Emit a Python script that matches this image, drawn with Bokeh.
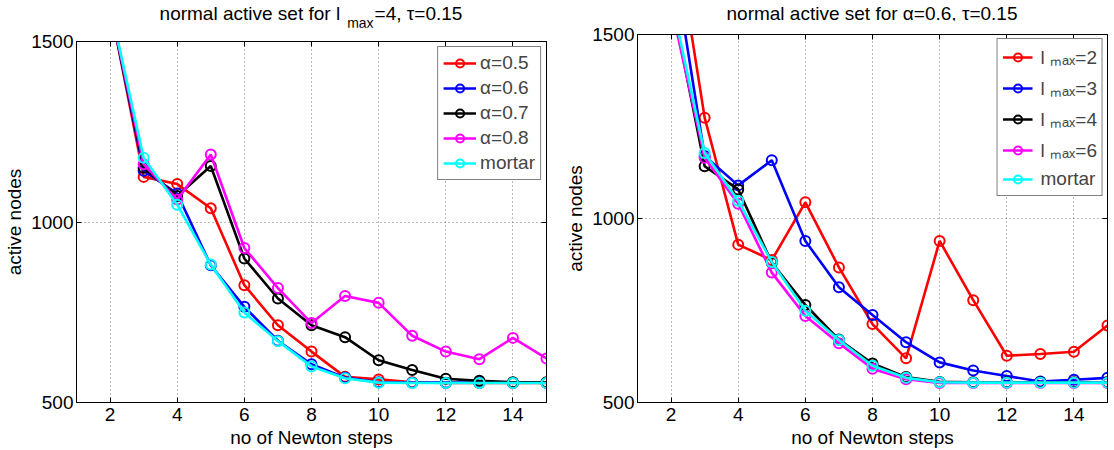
from bokeh.plotting import figure
from bokeh.models import Range1d, FixedTicker, LinearAxis, Legend, LegendItem, Div
from bokeh.layouts import row, column
from bokeh.embed import file_html
from bokeh.resources import INLINE

# ---------------- data ----------------
steps = [2, 3, 4, 5, 6, 7, 8, 9, 10, 11, 12, 13, 14, 15]

# left: l_max = 4, tau = 0.15
alpha05 = [1600, 1125, 1105, 1038, 825, 714, 641, 571, 564, 556, 554, 554, 554, 554]
alpha06 = [1600, 1142, 1079, 880, 765, 671, 606, 569, 556, 555, 555, 555, 555, 555]
alpha07 = [1600, 1150, 1072, 1155, 899, 788, 714, 681, 617, 590, 566, 560, 556, 556]
alpha08 = [1600, 1160, 1062, 1187, 928, 817, 720, 795, 776, 685, 641, 620, 679, 622]
mortar = [1600, 1178, 1048, 882, 749, 670, 600, 567, 555, 554, 554, 554, 554, 554]

# right: alpha = 0.6, tau = 0.15
lmax2 = [1854, 1274, 929, 887, 1044, 867, 713, 620, 939, 778, 627, 632, 638, 709]
lmax3 = [1743, 1170, 1090, 1158, 939, 813, 738, 664, 609, 587, 572, 557, 562, 567]
lmax4 = alpha06
lmax6 = [1579, 1165, 1040, 853, 735, 661, 592, 563, 553, 553, 553, 553, 553, 553]

left_labels = ["α=0.5", "α=0.6", "α=0.7", "α=0.8", "mortar"]
right_labels = ["l ₘₐₓ=2", "l ₘₐₓ=3", "l ₘₐₓ=4", "l ₘₐₓ=6", "mortar"]
colors = ["#ff0000", "#0000ff", "#000000", "#ff00ff", "#00ffff"]
SUBSPAN = '<span style="font-size:14px;position:relative;top:8px;margin-left:7px;margin-right:1px">max</span>'
left_title = "normal active set for l" + SUBSPAN + "=4, τ=0.15"
right_title = "normal active set for α=0.6, τ=0.15"

xticks = [2, 4, 6, 8, 10, 12, 14]
yticks = [500, 1000, 1500]
x_lo, x_hi = 1, 15
y_lo, y_hi = 500, 1500

FONT = "Liberation Sans"
FS = "19px"


def title_div(html, width, height, left, frame_w, top):
    style = ("font-family:'Liberation Sans',Arial,sans-serif;font-size:19px;line-height:19px;"
             "color:black;white-space:nowrap;text-align:center;"
             f"margin:0;margin-left:{left}px;width:{frame_w}px;padding-top:{top}px;")
    return Div(text=f'<div style="{style}">{html}</div>', width=width, height=height,
               margin=0)


def make_fig(width, height, bl, br, bt, bb):
    p = figure(width=width, height=height,
               x_range=Range1d(x_lo, x_hi), y_range=Range1d(y_lo, y_hi),
               output_backend="svg", toolbar_location=None,
               min_border_left=bl, min_border_right=br,
               min_border_top=bt, min_border_bottom=bb)
    p.background_fill_color = "white"
    p.border_fill_color = "white"
    p.outline_line_color = "black"
    p.outline_line_width = 1
    for ax in (p.xaxis[0], p.yaxis[0]):
        ax.major_tick_in = 5
        ax.major_tick_out = 0
        ax.minor_tick_line_color = None
        ax.axis_line_color = "black"
        ax.major_tick_line_color = "black"
        ax.major_label_text_font = FONT
        ax.major_label_text_font_size = FS
        ax.major_label_text_color = "black"
        ax.axis_label_text_font = FONT
        ax.axis_label_text_font_size = FS
        ax.axis_label_text_font_style = "normal"
        ax.axis_label_text_color = "black"
    p.xaxis.ticker = FixedTicker(ticks=xticks)
    p.yaxis.ticker = FixedTicker(ticks=yticks)
    p.xaxis.axis_label = "no of Newton steps"
    p.yaxis.axis_label = "active nodes"
    p.xaxis.major_label_standoff = 5
    p.xaxis.axis_label_standoff = 3
    p.yaxis.major_label_standoff = 3
    p.yaxis.axis_label_standoff = 3
    # mirrored axes (ticks only, no labels drawn)
    for ticks, side in ((xticks, "above"), (yticks, "right")):
        ax = LinearAxis(ticker=FixedTicker(ticks=ticks),
                        major_label_text_font_size="1px", major_label_text_color=None,
                        major_label_standoff=0,
                        major_tick_in=5, major_tick_out=0, minor_tick_line_color=None,
                        axis_line_color="black")
        p.add_layout(ax, side)
    # grids
    p.xgrid.ticker = FixedTicker(ticks=xticks)
    p.ygrid.ticker = FixedTicker(ticks=yticks)
    for g in (p.xgrid[0], p.ygrid[0]):
        g.grid_line_color = "#666666"
        g.grid_line_dash = "1 3"
        g.grid_line_width = 1
        g.grid_line_alpha = 0.9
    return p


def add_series(p, ys, color):
    r1 = p.line(steps, ys, line_color=color, line_width=2.6)
    r2 = p.scatter(steps, ys, marker="circle", size=10, fill_color=None,
                   line_color=color, line_width=2)
    return [r1, r2]


def add_legend(p, series, labels, margin, pad, gw, standoff, sp):
    items = [LegendItem(label=lab, renderers=add_series(p, ys, c))
             for ys, c, lab in zip(series, colors, labels)]
    leg = Legend(items=items, location="top_right", margin=margin, padding=pad,
                 glyph_width=gw, glyph_height=20, label_height=20,
                 label_standoff=standoff, spacing=sp,
                 label_text_font=FONT, label_text_font_size=FS,
                 border_line_color="black", border_line_width=1,
                 background_fill_color="white", background_fill_alpha=1)
    p.add_layout(leg)


# left: frame top at 41
pl = make_fig(560, 423, 76, 14, 14, 47)
add_legend(pl, [alpha05, alpha06, alpha07, alpha08, mortar], left_labels, 5, 5, 33, 4, 3)
tl = title_div(left_title, 560, 27, 76, 470, 4)

# right: frame top at 34
pr = make_fig(554, 430, 77, 7, 14, 47)
add_legend(pr, [lmax2, lmax3, lmax4, lmax6, mortar], right_labels, 4, 5, 30, 8, 5)
tr = title_div(right_title, 554, 20, 77, 470, 4)

layout = row(column(tl, pl), column(tr, pr))
open("out.html", "w").write(file_html(layout, INLINE))
